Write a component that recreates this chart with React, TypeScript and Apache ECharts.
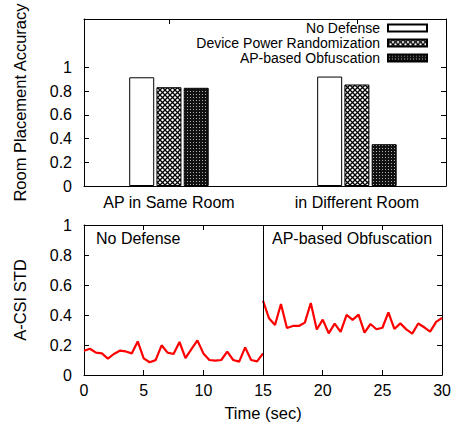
import React, { useEffect, useRef } from "react";
import * as echarts from "echarts";

const categories = ["AP in Same Room", "in Different Room"];
const barSeriesNames = ["No Defense", "Device Power Randomization", "AP-based Obfuscation"];
const noDefenseBars = [0.918, 0.924];
const powerRandBars = [0.834, 0.857];
const apObfBars = [0.829, 0.353];
const accuracyTicks = [0, 0.2, 0.4, 0.6, 0.8, 1];

const sampleStep = 0.5;
const noDefenseStart = 0;
const noDefenseStd = [
  0.162, 0.175, 0.149, 0.144, 0.109, 0.14, 0.162, 0.157, 0.144, 0.224, 0.111,
  0.085, 0.099, 0.198, 0.149, 0.14, 0.22, 0.113, 0.173, 0.231, 0.144, 0.1,
  0.096, 0.1, 0.156, 0.1, 0.089, 0.184, 0.1, 0.091, 0.144,
];
const obfStart = 15;
const obfStd = [
  0.495, 0.378, 0.333, 0.473, 0.313, 0.327, 0.327, 0.349, 0.48, 0.303, 0.369,
  0.278, 0.342, 0.288, 0.401, 0.367, 0.402, 0.283, 0.34, 0.305, 0.315, 0.418,
  0.307, 0.344, 0.304, 0.276, 0.343, 0.318, 0.289, 0.354, 0.381,
];
const timeTicks = [0, 5, 10, 15, 20, 25, 30];
const stdTicks = [0, 0.2, 0.4, 0.6, 0.8, 1];

function makePattern(kind: "cross" | "dense") {
  const c = document.createElement("canvas");
  if (kind === "cross") {
    const s = 5;
    c.width = s;
    c.height = s;
    const g = c.getContext("2d")!;
    g.fillStyle = "#fff";
    g.fillRect(0, 0, s, s);
    g.strokeStyle = "#000";
    g.lineWidth = 1.3;
    g.beginPath();
    g.moveTo(-1, -1);
    g.lineTo(s + 1, s + 1);
    g.moveTo(s + 1, -1);
    g.lineTo(-1, s + 1);
    g.stroke();
  } else {
    const s = 3;
    c.width = s;
    c.height = s;
    const g = c.getContext("2d")!;
    g.fillStyle = "#111";
    g.fillRect(0, 0, s, s);
    g.fillStyle = "#b0b0b0";
    g.fillRect(1, 1, 1, 1);
  }
  return { image: c, repeat: "repeat" } as any;
}

const FONT = "Liberation Sans, Arial, Helvetica, sans-serif";

export default function App() {
  const ref = useRef<HTMLDivElement>(null);
  useEffect(() => {
    document.body.style.margin = "0";
    const chart = echarts.init(ref.current!, undefined, { renderer: "svg" });
    const cross = makePattern("cross");
    const dense = makePattern("dense");
    const pair = (vals: number[], start: number) =>
      vals.map((v, i) => [start + i * sampleStep, v]);
    const barData = (vals: number[]) => vals.map((v, i) => [i, v]);
    const axisLine = { show: true, onZero: false, lineStyle: { color: "#000", width: 1 } };
    const tickStyle = { lineStyle: { color: "#000", width: 1 } };
    const labelStyle = { color: "#000", fontSize: 16, fontFamily: FONT };
    const nameStyle = { color: "#000", fontSize: 16.5, fontFamily: FONT };
    const xMin = -0.452;
    const xMax = 1.474;

    chart.setOption({
      animation: false,
      textStyle: { fontFamily: FONT },
      grid: [
        { left: 84, top: 18, width: 362, height: 168, show: false },
        { left: 84, top: 225, width: 362, height: 150, show: false },
      ],
      legend: {
        data: barSeriesNames,
        orient: "vertical",
        align: "right",
        right: 26,
        top: 21,
        padding: 0,
        itemWidth: 39,
        itemHeight: 7,
        itemGap: 1,
        selectedMode: false,
        textStyle: { fontSize: 14, lineHeight: 14, height: 14, color: "#000", fontFamily: FONT, padding: [0, 3, 0, 0] },
        icon: "rect",
      },
      xAxis: [
        {
          gridIndex: 0,
          type: "value",
          min: xMin,
          max: xMax,
          axisLine,
          splitLine: { show: false },
          axisTick: { inside: true, length: 5, customValues: [0, 1], ...tickStyle },
          axisLabel: {
            customValues: [0, 1],
            formatter: (v: number) => categories[Math.round(v)] ?? "",
            ...labelStyle,
            margin: 8,
          },
        },
        {
          gridIndex: 0,
          type: "value",
          position: "top",
          min: xMin,
          max: xMax,
          axisLine,
          splitLine: { show: false },
          axisTick: { inside: true, length: 5, customValues: [0, 1], ...tickStyle },
          axisLabel: { show: false },
        },
        {
          gridIndex: 1,
          type: "value",
          min: 0,
          max: 30,
          interval: 5,
          name: "Time (sec)",
          nameLocation: "middle",
          nameGap: 29,
          nameTextStyle: nameStyle,
          axisLine,
          splitLine: { show: false },
          axisTick: { inside: true, length: 5, customValues: timeTicks, ...tickStyle },
          axisLabel: { customValues: timeTicks, ...labelStyle, margin: 7 },
        },
        {
          gridIndex: 1,
          type: "value",
          position: "top",
          min: 0,
          max: 30,
          interval: 5,
          axisLine,
          splitLine: { show: false },
          axisTick: { inside: true, length: 5, customValues: timeTicks, ...tickStyle },
          axisLabel: { show: false },
        },
      ],
      yAxis: [
        {
          gridIndex: 0,
          type: "value",
          min: 0,
          max: 1.41,
          name: "Room Placement Accuracy",
          nameLocation: "middle",
          nameGap: 56,
          nameTextStyle: nameStyle,
          axisLine,
          splitLine: { show: false },
          axisTick: { inside: true, length: 5, customValues: accuracyTicks, ...tickStyle },
          axisLabel: { customValues: accuracyTicks, ...labelStyle, margin: 12 },
        },
        {
          gridIndex: 0,
          type: "value",
          position: "right",
          min: 0,
          max: 1.41,
          axisLine,
          splitLine: { show: false },
          axisTick: { inside: true, length: 5, customValues: accuracyTicks, ...tickStyle },
          axisLabel: { show: false },
        },
        {
          gridIndex: 1,
          type: "value",
          min: 0,
          max: 1,
          name: "A-CSI STD",
          nameLocation: "middle",
          nameGap: 56,
          nameTextStyle: nameStyle,
          axisLine,
          splitLine: { show: false },
          axisTick: { inside: true, length: 5, customValues: stdTicks, ...tickStyle },
          axisLabel: { customValues: stdTicks, ...labelStyle, margin: 12 },
        },
        {
          gridIndex: 1,
          type: "value",
          position: "right",
          min: 0,
          max: 1,
          axisLine,
          splitLine: { show: false },
          axisTick: { inside: true, length: 5, customValues: stdTicks, ...tickStyle },
          axisLabel: { show: false },
        },
      ],
      series: [
        {
          name: barSeriesNames[0],
          type: "bar",
          xAxisIndex: 0,
          yAxisIndex: 0,
          barWidth: 25,
          barGap: "9%",
          data: barData(noDefenseBars),
          itemStyle: { color: "#fff", borderColor: "#000", borderWidth: 1 },
        },
        {
          name: barSeriesNames[1],
          type: "bar",
          xAxisIndex: 0,
          yAxisIndex: 0,
          barWidth: 25,
          barGap: "9%",
          data: barData(powerRandBars),
          itemStyle: { color: cross, borderColor: "#000", borderWidth: 1 },
        },
        {
          name: barSeriesNames[2],
          type: "bar",
          xAxisIndex: 0,
          yAxisIndex: 0,
          barWidth: 25,
          barGap: "9%",
          data: barData(apObfBars),
          itemStyle: { color: dense, borderColor: "#000", borderWidth: 1 },
        },
        {
          name: "std-no-defense",
          type: "line",
          xAxisIndex: 2,
          yAxisIndex: 2,
          data: pair(noDefenseStd, noDefenseStart),
          showSymbol: false,
          lineStyle: { color: "#ff0000", width: 2.2 },
          itemStyle: { color: "#ff0000" },
          markLine: {
            silent: true,
            symbol: "none",
            label: { show: false },
            lineStyle: { color: "#000", width: 1, type: "solid" },
            data: [{ xAxis: obfStart }],
          },
        },
        {
          name: "std-ap-obf",
          type: "line",
          xAxisIndex: 2,
          yAxisIndex: 2,
          data: pair(obfStd, obfStart),
          showSymbol: false,
          lineStyle: { color: "#ff0000", width: 2.2 },
          itemStyle: { color: "#ff0000" },
        },
      ],
      graphic: [
        {
          type: "text",
          left: 96,
          top: 230,
          style: { text: "No Defense", fill: "#000", fontSize: 16, fontFamily: FONT },
        },
        {
          type: "text",
          left: 272,
          top: 230,
          style: { text: "AP-based Obfuscation", fill: "#000", fontSize: 16, fontFamily: FONT },
        },
      ],
    });
    return () => chart.dispose();
  }, []);
  return <div ref={ref} style={{ width: 454, height: 425 }} />;
}
